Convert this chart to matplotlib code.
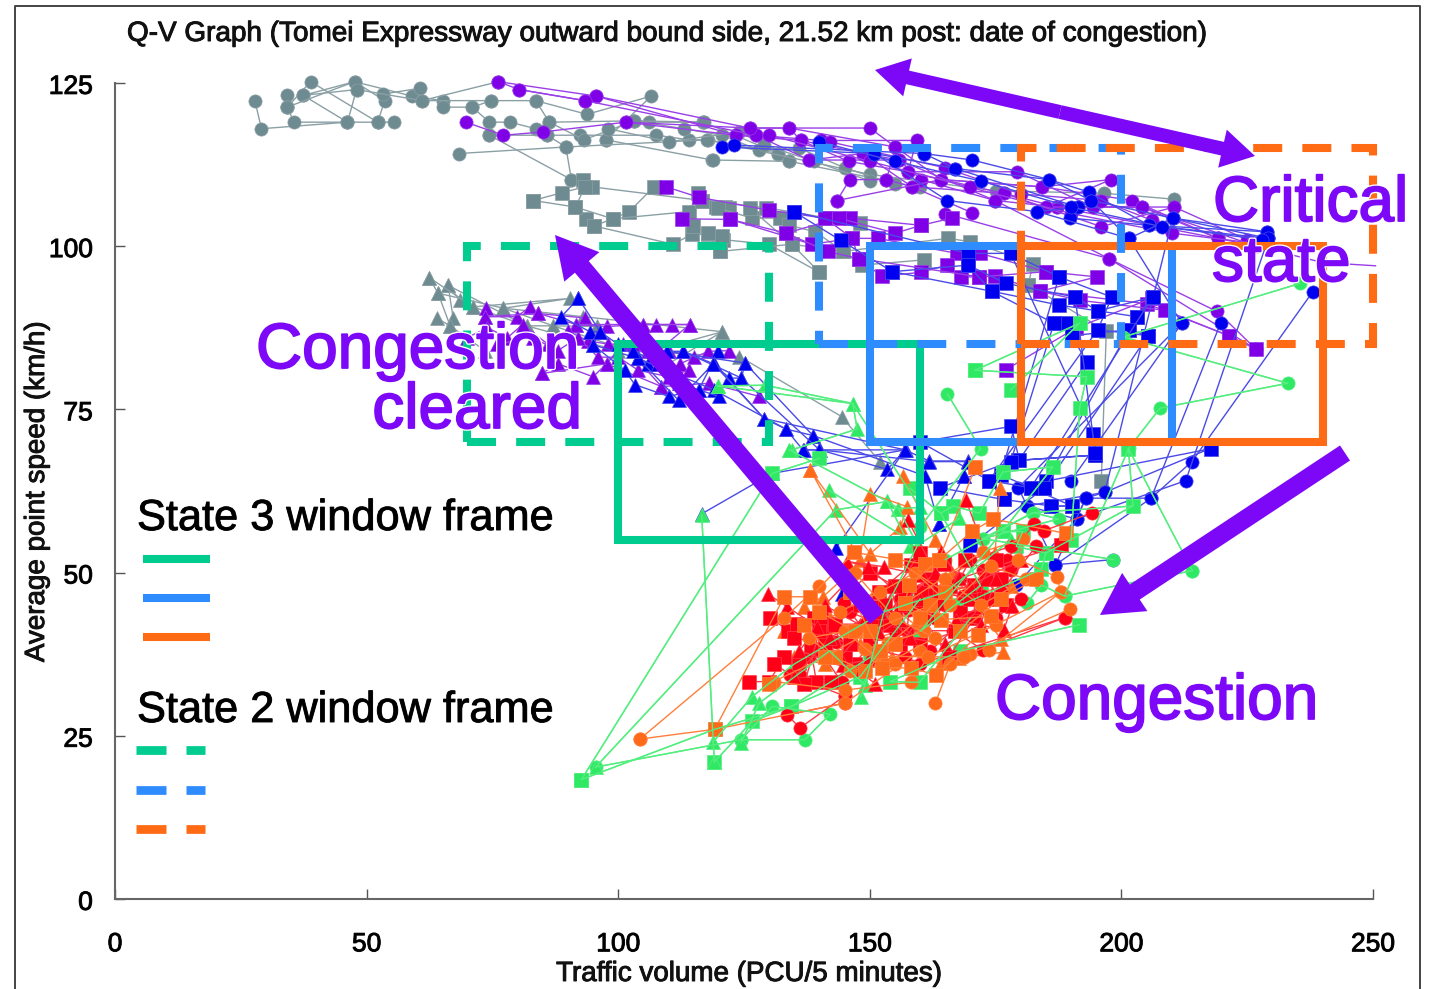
import matplotlib
matplotlib.use("Agg")
from matplotlib import pyplot as plt
from matplotlib.lines import Line2D
from matplotlib.patches import FancyArrowPatch, Rectangle
from matplotlib.transforms import ScaledTranslation
import matplotlib.patheffects as pe

plt.rcParams['font.family'] = ['Liberation Sans', 'DejaVu Sans']

W, H = 1437, 989

x_ticks = [0, 50, 100, 150, 200, 250]
y_ticks = [0, 25, 50, 75, 100, 125]

# each run is one connected trace, (PCU/5 min, km/h)
gray_circle = [
    [(27.8,122.3),(29.1,118),(46.2,119),(52.2,119),(55.4,119)],
    [(34.2,121.3),(35.6,119),(46.2,119),(48,124),(37.4,123.1),(47.6,125.2),(53.6,122.3),(52.2,119)],
    [(34.2,123.1),(34.2,121.3),(38.9,125.2),(52.2,119)],
    [(37.4,123.1),(46.2,119)],
    [(34.2,121.3),(47.6,125.2),(59,123),(65.1,122.3),(65.1,121.3),(71,121.3),(74.8,122.3),(83.6,122.3),(93.8,120.2),(106.6,123),(97.5,116.3)],
    [(53.2,123.3),(60.6,124.2),(61,122.3),(74.8,122.3)],
    [(48,124),(61,122.3),(76.2,125.2)],
    [(68.4,114.2),(89.6,115.2),(90.7,110.2)],
    [(74.4,117),(90.7,110.2)],
    [(71,121.3),(74.4,119),(78.5,119),(83.6,118),(86.3,119),(103.2,119.2),(106.2,119),(116.9,119)],
    [(74.4,117),(85.9,117),(92.4,117),(107.6,117),(114.1,116.3),(117.8,116.3),(131.8,114.2),(134,113)],
    [(83.6,122.3),(86.3,119),(93.2,116.3),(103.2,119.2),(116.9,119),(117,119),(131.8,114.2)],
    [(97.5,116.3),(118.7,113.2),(118.8,113.2),(134,113),(160,109)],
    [(85.9,117),(89.6,115.2),(117.6,116.3),(150,111),(175,108.5),(196.6,108.1),(210.5,107.2)],
    [(103.2,119.2),(113,118),(120.6,117),(128,114.7),(136,115),(145,112),(155,109.5)],
    [(98,118),(110,116),(124,117.5),(129,115.5),(139,113),(150,110)],
]
gray_square = [
    [(83.1,107),(88.8,108.2),(93.4,109.1),(94.7,109.1),(116.7,107),(129.4,105.9),(148,103.5)],
    [(83.1,107),(91.5,106),(93.7,104.2),(95.2,103.1),(98.9,104.2),(102.2,105.3),(107.1,109.1)],
    [(93,110.2),(93.4,109.1),(91.5,106),(98.9,104.2),(114.1,105.3),(115.9,108.2),(116.6,107),(119.5,106),(121.2,106),(122.1,105.9)],
    [(95.2,103.1),(110.9,100.3),(114.6,101.8),(117.9,101.8),(120.2,99.2),(120.9,101),(129.9,100.3),(140,96)],
    [(114.9,103.1),(117.9,102),(120.7,101.5),(120.3,99.2),(134.5,100.3),(144.7,99.2),(148.4,97.1),(160.7,97.9)],
    [(119.8,105.9),(126.5,104.3),(132.1,104.3),(134,103.2),(139.2,102.2),(144.7,99.2),(165.5,101.2),(170,100.7),(182.4,97.3),(181.5,94.1)],
    [(126.1,105.9),(134.5,100.3),(140,96)],
    [(181.5,94.1),(197,87),(196,64)],
]
gray_triangle = [
    [(62.4,95.2),(64.2,92.8),(66.6,87.8),(67.2,89),(66.2,94),(81.8,87.8),(87.1,87.8),(95.7,87.7)],
    [(66.2,94),(68.5,91.8),(71.2,90.7),(90.4,92),(77.2,90.5),(93.1,89.2),(120.7,86.9)],
    [(63.9,89),(66.6,87.8),(73.5,84)],
    [(62.4,95.2),(71.2,90.7),(81.8,87.8),(100,84),(124.1,83.1),(144.4,73.9),(152,67)],
    [(64.2,92.8),(77.2,90.5),(87.1,87.8),(110,82),(120.7,86.9),(107,84)],
]
purple_circle = [
    [(76.2,125.2),(80.3,124),(93.4,122.3),(95.6,123),(123.4,117),(136.3,116.2),(148.7,114.2),(158.4,109.1),(176.6,108.1),(187.3,106),(204.1,106),(219.2,101.2)],
    [(76.2,125.2),(95.6,123),(126.1,118.1),(134,118.1),(155.1,115.2),(164.2,110.2),(184.2,109.1),(202.2,107),(219.2,101.2),(226.8,100)],
    [(69.7,119),(77.2,117),(85,117.5),(101.5,119),(123.4,117),(127.4,117),(138,113.2),(155.8,113.2),(160.2,110.2),(174.9,107),(187.3,106),(219.2,101.2)],
    [(80.3,124),(93.4,122.3),(127.4,117),(140.3,116.2),(159.3,116.2),(157.6,111.4),(179.3,111.4),(194.4,106),(210.5,106),(225,101)],
    [(101.5,119),(126.1,118.1),(150,118.1),(155.1,115.2),(153.3,110.2),(158.4,109.1),(170.4,105.1)],
    [(143.5,107),(146,110.2),(153.3,110.2)],
    [(143.5,107),(164.2,110.2),(184.2,109.1),(197.9,110.2),(185,106),(204.1,106),(226.8,100)],
    [(134,118.1),(136.3,116.2),(145.8,113),(157.6,111.4),(176.6,108.1),(196,103),(210.5,106)],
    [(138,113.2),(148.7,114.2),(155.8,113.2),(174.9,107),(197.5,98.1),(226.8,84.2)],
    [(165,105),(197.5,98.1),(219,90),(226.8,84.2)],
    [(130,117),(150,113),(170,109),(190,105),(210,102),(226,100.5)],
    [(142,116),(165,112),(180,108),(196,107),(206,104)],
]
purple_tail_x = [226.8, 240, 250.5]
purple_tail_y = [100, 97.5, 97]
purple_square = [
    [(109.5,109.1),(116,107.5),(130,105.5),(141.1,104.3),(146,104.3),(160.2,103.2),(166.3,104.3)],
    [(112.6,104.2),(122.3,104.1),(133.4,102),(143.8,104.3),(155.1,102),(160.2,103.2)],
    [(122.3,104.1),(138.5,100.3),(146.5,101.2),(151.6,101.2),(167.3,98.9),(171.9,98.9),(185,96.1),(195.1,95.3),(183.9,93.1),(205,91.2),(221.3,86.3)],
    [(133.4,102),(141.6,99.2),(147.8,98.1),(152.4,95.4),(160.2,96),(165.4,97.1),(168.2,95.3),(171.8,95.3),(174.9,95.4),(183.9,93.1),(191.7,91.7),(208.6,90.2),(221.3,86.3),(226.8,84.2)],
    [(141.1,104.3),(146.5,101.2),(147.8,98.1),(171.8,95.3),(185,96.1)],
    [(177.1,81.1),(191,87.5),(206,92)],
]
purple_triangle = [
    [(73.8,90.5),(73.5,89.2),(79.8,89.2),(82.5,90.7),(84.1,89.7),(93.4,89),(91.7,88),(97.7,87.7),(105,88),(107.6,88),(110.6,88),(114.2,88)],
    [(73.5,89.2),(84.1,89.7),(91.7,88),(105,88),(114.2,88),(108,84)],
    [(84.8,80.5),(88,82),(95,80),(97.7,82),(101,85),(108.6,78.5),(112.3,82),(117.9,83.9),(122,84)],
    [(84.8,80.5),(97.7,82),(108.6,78.5),(118,79),(128,77)],
    [(70,86),(74,87.5),(78,86),(81,88),(86,85),(90,87),(94,85.5),(98,85),(103,85),(106,84),(110,84),(115,83)],
    [(76,85),(83,86),(88,84),(92,86),(96,83),(100,83),(104,81),(110,80),(114,81)],
]
blue_circle = [
    [(120.7,115.2),(150.9,114.2),(167,111.9),(185.7,110.2),(193.5,108.3),(205.5,103.2),(229,102.2)],
    [(123,115.5),(160.7,114.2),(170.4,113.2),(185.7,110.2),(194,107),(210.2,104.3),(229.2,101.2)],
    [(150.9,114.2),(165.4,107),(183.3,105.3),(191.3,106),(189.8,104.3),(205.5,103.2),(229.2,101.2)],
    [(160.7,114.2),(167,111.9),(191.3,106),(194,107),(201.5,101.2),(210.2,104.3),(229,102.2)],
    [(183.3,105.3),(201.5,101.2),(212,88.2),(190,64.1)],
    [(212,88.2),(179.5,63),(186.9,51.2)],
    [(219.7,88.2),(205.9,61.4),(192.9,61.4),(191.1,58.2),(181.2,60.2)],
    [(238,93),(214,67),(205.9,61.4),(186.9,51.2)],
    [(229.2,101.2),(212.8,64.1),(191.1,58.2),(179.1,48.1)],
    [(210.2,104.3),(196.7,62.3),(181.2,60.2)],
    [(217.6,69),(196.7,62.3),(192.9,61.4),(186.9,51.2),(198.4,52)],
    [(140,116),(155,113),(172,110),(190,106),(208,103),(228,101)],
]
blue_square = [
    [(134.9,105.3),(144.2,100.9),(154.5,96.1),(169.5,97.1),(177.1,94.3),(190.8,92.2),(195.3,90.1),(206.2,92.2),(203.1,89.2)],
    [(134.9,105.3),(169.5,98.9),(178,98.9),(187.6,95.3),(198.1,92.2),(195.3,87.2),(205.3,86.3)],
    [(154.5,96.1),(174.2,93.1),(186.6,88.2),(189,88.2),(190.2,86.3),(201.5,87.2),(205.3,86.3)],
    [(169.5,97.1),(174.2,93.1),(187.5,91),(195.3,90.1),(203.1,89.2)],
    [(178,98.9),(194.4,71.3),(194.8,68),(179.5,67.2),(194.8,68)],
    [(187.6,95.3),(176,65),(190.2,60.2),(186.1,60.2)],
    [(190.2,86.3),(193.1,82.2),(179.7,67.3),(178.1,72.4),(160,70),(173.7,64.1),(182,63),(184.7,63)],
    [(186.6,88.2),(178,67),(163.9,63),(176.6,61.2),(186.1,60.2),(190.2,60.2)],
    [(201.5,87.2),(185,64),(217.9,69)],
    [(205.3,86.3),(184.7,63),(170,54.2)],
    [(195.3,87.2),(173.7,64.1),(176.6,61.2)],
    [(206.2,92.2),(182,63)],
    [(190.8,92.2),(194.8,68.3)],
]
blue_triangle = [
    [(92.1,92),(88.7,89.2),(94.4,86.9),(96.4,86.9),(95,84.9),(101.3,81),(103.3,78.8),(110,77),(116,78),(119.9,83.9)],
    [(92.1,92),(96.4,86.9),(104,82.8),(106,82),(109.6,83.9),(112.9,83.9),(118.9,82),(122.1,79.8),(124.5,79.8),(125.2,82.1)],
    [(95,84.9),(104,82.8),(112,76.4),(119,82.1),(129,73.6),(133.3,72),(138.7,71),(136.9,68.8),(140,68.8),(157.1,68.8)],
    [(104,82.8),(119,78),(133.3,72),(136.7,68.8),(140.1,68.8),(153.5,65.8),(157,68.8),(161.8,67.1),(169.5,67.1),(168.7,64.8)],
    [(109.6,83.9),(125.2,82.1),(138.7,71),(161,64.8),(163.7,57.5)],
    [(112.9,83.9),(124.5,79.8),(140,68.8),(161.8,67),(169.5,67),(168.7,64.8),(163.7,57.5)],
    [(118.9,82),(129,73.6),(157,68.8),(143.2,53.7),(144.4,46.7)],
    [(116.6,59),(130.6,65.2),(157,68.8)],
    [(100,85),(103,84),(108,82),(112,79),(116,78),(120,77)],
]
green_circle = [
    [(235.5,94.3),(200.4,86.1),(233.1,79),(207.7,75.2),(201.5,69.1),(188.7,46.4)],
    [(165.4,77.4),(172,69),(160,57)],
    [(95.5,20.2),(124.4,24.4),(137.1,24.4),(142.1,28.3),(130.6,29.5),(124.4,24.4)],
    [(214.1,50.3),(201.4,69)],
    [(214.1,50.3),(188.7,46.4),(184.1,48.1),(181.2,45.3)],
    [(198.4,52),(172.4,55.2),(187.5,58.2),(182.5,59.2),(165,52)],
    [(202.3,60.2),(182.5,59.2),(172.4,55.2)],
]
green_square = [
    [(92.7,18.3),(130.6,65.2),(140,67.5)],
    [(92.7,18.3),(119.2,26),(134.4,29.5),(148,34),(160,46)],
    [(119.1,21),(126.6,27.2),(134.4,29.5),(150,37)],
    [(170.9,81),(193.1,80),(191.7,75.2),(190,55)],
    [(170.9,81),(191.7,88.2),(178,78)],
    [(164.1,59.1),(166.6,60.2),(171.8,59.1),(176.4,65.4),(186.4,66.2),(176.4,56.3),(180.4,56.3),(179.1,54),(185,53),(184.1,50.5),(168,45)],
    [(191.6,42),(168,38),(154,33.3),(159.9,33.2),(170,43)],
    [(158,62.9),(164.1,59.1),(172,48),(160,41),(176.4,56.3)],
    [(201.4,69),(202.3,60.2),(185,53)],
]
green_triangle = [
    [(116.6,58.8),(119.1,21)],
    [(95.5,20.2),(143.2,59.6),(153.5,60.9),(155.7,59.8),(159.5,54.2),(167.8,58.3)],
    [(119.8,78.6),(129.2,78.7),(146.6,75.9),(147.5,72),(134.5,68.8),(134,68.8)],
    [(119.8,78.6),(146.6,75.9),(160,60),(155.7,59.8)],
    [(141.9,62.6),(159.5,54.2),(152.8,44),(149,32.8),(148.2,31)],
    [(118.8,24),(126.6,31),(135,36),(152.8,44),(165,47),(178,55)],
    [(124.4,23.9),(128,30),(142,38),(149,32.8)],
    [(134,68.8),(153.5,60.9),(158,54)],
]
orange_circle = [
    [(104.3,24.5),(133,43.1),(140,48)],
    [(104.3,24.5),(119.2,26),(145,30),(160,38)],
    [(163,30),(166,36),(168.7,37.1)],
    [(189.7,44.4),(170,37.6),(168.7,37.1),(161.6,37.1),(151.5,37.2),(149,38.3),(153.6,39.2),(160.7,41),(157,45.3),(172.4,53.2),(180.4,55.1),(179.5,52),(187.3,49.3),(187.9,47),(173.7,38.2)],
    [(131,33.3),(145,32),(158.2,33.2),(161.6,37.1),(175,42),(187.9,47)],
    [(147,50),(155,43),(163,40),(153,36),(145,41),(138,40),(146,35),(155,36)],
    [(165,49),(172,45),(181,49),(174,51),(166,45),(159,50),(152,47),(144,44)],
]
orange_square = [
    [(119.2,26),(133,46.3),(138.2,46.3),(146.9,53.1),(161,51.3),(163.7,51.9),(170.3,56.3),(174.5,58.2),(189,56)],
    [(152.4,35.4),(158.2,35.4),(163.2,34.3),(171.6,40.5),(174.1,43.3),(164.1,42.8),(157,45.3),(157.8,48.1),(163.7,51.9),(171,66.2)],
    [(140,44),(147,41),(155,39),(149,35),(143,37),(137,42)],
    [(130,33),(141,37),(150,41),(162,45),(168,41),(176,46),(183,49)],
    [(155,52),(165,47),(160,43),(152,38),(146,47)],
]
orange_triangle = [
    [(138.2,65.7),(150.1,52.9),(156.1,57),(157.4,60.1),(150.1,62.1),(148,52),(138.2,65.7)],
    [(136.9,44.8),(140.7,46.3),(146,50),(154.5,36.9),(164.1,36.1),(167.8,36.9),(176.4,37.8),(176,39.9),(166.4,49.9),(174.9,53),(175.8,62.9)],
    [(156.5,64.8),(163,55),(166,48),(172,47),(178,48)],
    [(133,41),(142,43),(151,47),(159,42),(148,39),(141,36),(135,37)],
]
red_circle = [
    [(188.7,43.1),(172.4,38.2),(166.6,41.1),(157.4,41.1),(157.8,44.3),(162.4,46.9),(168.5,46.4),(172.4,46.4),(172.4,50.4),(178,50.4),(177.2,52),(182.6,57.4),(184.6,56.4),(194.2,59.2)],
    [(188.7,43.1),(160,36),(157,37.1),(146.3,39.2),(143.3,39.4),(140.9,37.2),(144.4,33.2),(136.2,34.3),(134.2,34.3),(145,31.1),(145,30),(133.6,28.2),(136.1,26.2),(145,31.1)],
    [(144.8,45.3),(150,40),(156,46),(163,43),(168,49),(175,43),(180,46)],
    [(138,37),(148,35),(155,41),(162,38),(169,43),(176,47),(183,54)],
    [(141,41),(146,44),(152,42),(158,48),(165,45),(170,52),(178,54)],
]
red_square = [
    [(130.2,43.1),(133.8,41.1),(135.5,42.1),(139,43.1),(140.4,43.1),(142.9,42.1),(150.3,42.1),(151.9,44.8),(151.9,47.1),(158.2,51.2),(164.7,51.3),(170.8,48.1),(170.8,43.1),(165.7,37),(160.6,43.1),(159.5,45.3),(163.9,45.3),(160.1,47.1),(187.9,54.2)],
    [(126,33.3),(130,33.3),(133,37.1),(136,36.1),(138.3,38.2),(139.4,33.2),(142.3,33.3),(147,36),(150,39),(155,43),(160,39),(167,41),(174,46)],
    [(135,40),(141,39),(145,37),(143,42),(148,45),(154,42),(157,47),(162,49),(168,44),(173,49),(177,45)],
    [(131,36),(137,33),(140,41),(146,39),(152,37),(156,39),(164,47),(170,46),(175,52)],
    [(146,47),(150,50),(155,48),(153,45),(160,53),(166,48),(169,52),(176,49)],
]
red_triangle = [
    [(129.8,46.7),(133.5,44.8),(139.6,41.7),(136,38),(144.6,35.9),(149.6,36.6),(151.9,40.7),(156.1,42.8),(154,47.9),(149.7,50.9),(145.5,51.7),(152.8,50.9),(160.3,49.6),(164.1,53.2),(167.8,49.1),(172,44.8),(167.2,42.8),(176.6,41.2),(178.3,44.9)],
    [(151.1,33),(144,37),(152,44),(158,40),(165,39),(172,42),(175,49),(169.1,61.1)],
    [(157.6,58),(163,50),(156,45),(148,42),(141,45),(146,49)],
    [(135,34),(142,40),(149,43),(160,46),(170,48),(180,52)],
]

frames_state3 = [(100, 55, 60, 30, '#00cc8f'), (150, 70, 60, 30, '#2f8cff'), (180, 70, 60, 30, '#ff6a14')]
frames_state2 = [(70, 70, 60, 30, '#00cc8f'), (140, 85, 60, 30, '#2f8cff'), (180, 85, 70, 30, '#ff6a14')]

GRAY, GRAY_L = '#6f8b92', '#8ba0a5'
PURPLE, PURPLE_L = '#7f00e6', '#9a3fe8'
BLUE, BLUE_L = '#0000f0', '#4a4ae8'
GREEN, GREEN_L = '#2fe864', '#55ee80'
ORANGE, ORANGE_L = '#ff6a1a', '#ff7f3a'
RED, RED_L = '#ff0018', '#ff3a44'
VIOLET = '#7d08f8'


def px(x, y):
    return x / W, 1 - y / H


def draw(runs, color, line_color, marker, ms=9.5):
    for run in runs:
        xs = [p[0] for p in run]
        ys = [p[1] for p in run]
        ax.plot(xs, ys, '-', color=line_color, lw=1.0, marker=marker, ms=ms, mfc=color,
                mec=line_color, mew=0.5, clip_on=False, zorder=2)


fig = plt.figure(figsize=(W / 100, H / 100), dpi=100)
ax = fig.add_axes([115 / W, 1 - 899 / H, (1373 - 115) / W, (899 - 83) / H])
ax.set_xlim(0, 250)
ax.set_ylim(0, 125)
ax.spines['top'].set_visible(False)
ax.spines['right'].set_visible(False)
for s in ['left', 'bottom']:
    ax.spines[s].set_color('#666666')
    ax.spines[s].set_linewidth(1.5)
ax.set_xticks(x_ticks)
ax.set_yticks(y_ticks)
ax.tick_params(direction='in', length=7, width=1, color='#555555', labelsize=19, pad=24)
ax.tick_params(axis='y', pad=16)
heavy = [pe.withStroke(linewidth=0.7, foreground='#111111')]
for lab in ax.get_yticklabels():
    lab.set_transform(lab.get_transform() + ScaledTranslation(0, -1 / 72, fig.dpi_scale_trans))
    lab.set_path_effects(heavy)
for lab in ax.get_xticklabels():
    lab.set_path_effects(heavy)

for runs, mk in [(gray_circle, 'o'), (gray_square, 's'), (gray_triangle, '^')]:
    draw(runs, GRAY, GRAY_L, mk)
for runs, mk in [(purple_circle, 'o'), (purple_square, 's'), (purple_triangle, '^')]:
    draw(runs, PURPLE, PURPLE_L, mk)
ax.plot(purple_tail_x, purple_tail_y, '-', color=PURPLE_L, lw=1.0, clip_on=False, zorder=2)
for runs, mk in [(blue_circle, 'o'), (blue_square, 's'), (blue_triangle, '^')]:
    draw(runs, BLUE, BLUE_L, mk)
for runs, mk in [(green_circle, 'o'), (green_square, 's'), (green_triangle, '^')]:
    draw(runs, GREEN, GREEN_L, mk)
draw(orange_triangle, ORANGE, ORANGE_L, '^')
for runs, mk in [(red_circle, 'o'), (red_square, 's'), (red_triangle, '^')]:
    draw(runs, RED, RED_L, mk)
draw(orange_circle, ORANGE, ORANGE_L, 'o')
draw(orange_square, ORANGE, ORANGE_L, 's')
# the green traces run across the red cluster
for run in green_circle + green_square + green_triangle:
    ax.plot([p[0] for p in run], [p[1] for p in run], '-', color=GREEN_L, lw=1.0, clip_on=False, zorder=3)

for x0, y0, w, h, c in frames_state3:
    ax.add_patch(Rectangle((x0, y0), w, h, fill=False, ec=c, lw=5.8, zorder=4, joinstyle='miter', clip_on=False))
for x0, y0, w, h, c in frames_state2:
    ax.add_patch(Rectangle((x0, y0), w, h, fill=False, ec=c, lw=5.8, zorder=4, clip_on=False,
                           linestyle=(0, (3.6, 2.5)), capstyle='butt'))

# big arrows, from / to in pixels of the picture
thin_arrow = "simple,head_length=24,head_width=28,tail_width=10"
thick_arrow = "simple,head_length=30,head_width=33,tail_width=13"
for a, b, style in [((1060, 112), (875, 70), thin_arrow), ((1060, 112), (1255, 156), thin_arrow),
                    ((877, 618), (555, 235), thick_arrow), ((1345, 453), (1100, 615), thick_arrow)]:
    fig.add_artist(FancyArrowPatch(px(*a), px(*b), transform=fig.transFigure, arrowstyle=style,
                                   mutation_scale=1, color=VIOLET, lw=0, shrinkA=0, shrinkB=0, zorder=5))

halo = [pe.withStroke(linewidth=3.2, foreground='white'), pe.withStroke(linewidth=1.3, foreground=VIOLET)]
for s, x, y, size, ha in [("Critical", 1213, 204, 46, 'left'), ("state", 1212, 264, 46, 'left'),
                          ("Congestion", 256, 351, 46, 'left'), ("cleared", 582, 411, 46, 'right'),
                          ("Congestion", 995, 702, 46, 'left')]:
    fig.text(*px(x, y), s, fontsize=size, color=VIOLET, ha=ha, va='center', zorder=6, path_effects=halo)

fig.text(*px(127, 34), "Q-V Graph (Tomei Expressway outward bound side, 21.52 km post: date of congestion)",
         fontsize=20.1, ha='left', va='center', color='#111111', path_effects=heavy)
fig.text(*px(749, 974), "Traffic volume (PCU/5 minutes)", fontsize=20, ha='center', va='center', color='#111111', path_effects=heavy)
fig.text(*px(37, 492), "Average point speed (km/h)", fontsize=20, rotation=90, ha='center', va='center', color='#111111', path_effects=heavy)
fig.text(*px(137, 519), "State 3 window frame", fontsize=31.2, ha='left', va='center', color='black', path_effects=heavy)
fig.text(*px(137, 711), "State 2 window frame", fontsize=31.2, ha='left', va='center', color='black', path_effects=heavy)

for y, c in [(559, '#00cc8f'), (598, '#2f8cff'), (637, '#ff6a14')]:
    fig.add_artist(Line2D([143 / W, 210 / W], [1 - y / H] * 2, color=c, lw=5.8, solid_capstyle='butt'))
for y, c in [(750, '#00cc8f'), (790, '#2f8cff'), (829, '#ff6a14')]:
    for x0, x1 in [(136, 166), (186, 205)]:
        fig.add_artist(Line2D([x0 / W, x1 / W], [1 - y / H] * 2, color=c, lw=6.3, solid_capstyle='butt'))

# border of the scanned figure, open at the bottom
fig.add_artist(Line2D([15 / W, 15 / W, 1420 / W, 1420 / W], [0, 1 - 6 / H, 1 - 6 / H, 0], color='#444444', lw=1.4))

fig.savefig("out.png", dpi=100)
